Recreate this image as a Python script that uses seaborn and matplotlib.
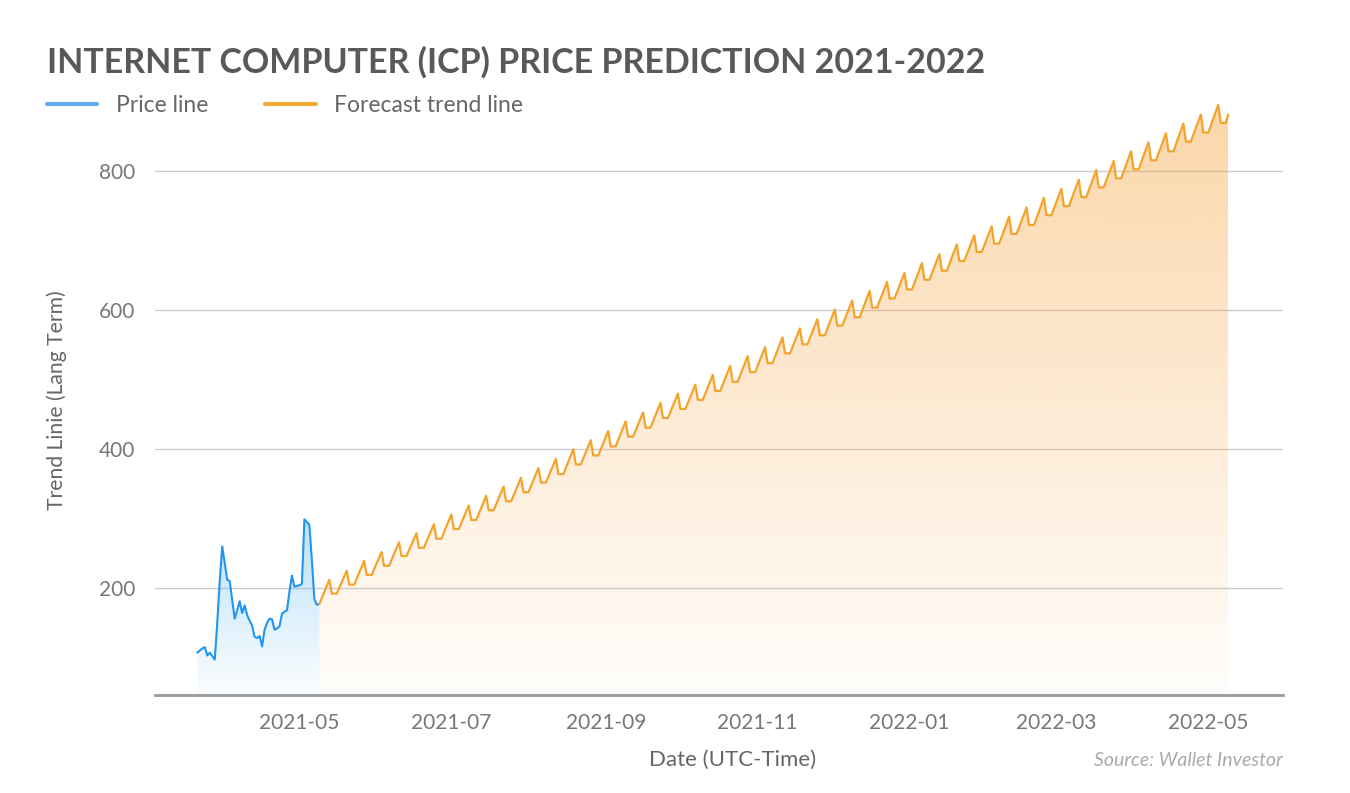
import numpy as np
import pandas as pd
import matplotlib
matplotlib.use("Agg")
import matplotlib.pyplot as plt
import matplotlib.dates as mdates
from matplotlib.colors import to_rgb
from matplotlib.lines import Line2D
import seaborn as sns

# Price line (daily)
price_start = "2021-03-21"
price_values = [107, 110, 113, 115, 103, 107, 102, 97, 150, 210,
                260, 236, 212, 210, 183, 156, 168, 181, 164, 175,
                161, 153, 146, 130, 128, 131, 116, 140, 150, 156,
                155, 140, 142, 145, 163, 166, 168, 195, 218, 202,
                203, 204, 206, 299, 295, 291, 240, 184, 176, 177]

# Forecast trend line: weekly peaks and the troughs after each peak
forecast_start = ("2021-05-09", 177)
first_peak = "2021-05-13"
forecast_peaks = [212, 225, 239, 252, 266, 279, 292, 306, 319, 333,
                  346, 359, 373, 386, 400, 413, 426, 440, 453, 467,
                  480, 493, 507, 520, 534, 547, 561, 574, 587, 601,
                  614, 628, 641, 654, 668, 681, 695, 708, 721, 735,
                  748, 762, 775, 788, 802, 815, 829, 842, 855, 869,
                  882, 896]
forecast_troughs = [192, 205, 219, 232, 246, 258, 271, 285, 298, 312,
                    325, 338, 352, 364, 378, 391, 404, 418, 431, 445,
                    458, 471, 484, 497, 511, 524, 538, 551, 564, 578,
                    590, 604, 617, 630, 644, 657, 671, 684, 696, 710,
                    723, 737, 750, 763, 777, 790, 803, 816, 829, 843,
                    856, 870]
forecast_end = ("2022-05-09", 882)

x_ticks = ["2021-05", "2021-07", "2021-09", "2021-11", "2022-01", "2022-03", "2022-05"]
y_ticks = [200, 400, 600, 800]

BLUE = "#2196f0"
ORANGE = "#f4a42c"

price = pd.DataFrame({
    "date": pd.date_range(price_start, periods=len(price_values), freq="D"),
    "value": price_values,
})

rows = [(pd.Timestamp(forecast_start[0]), forecast_start[1])]
peak_dates = pd.date_range(first_peak, periods=len(forecast_peaks), freq="7D")
for d, p, t in zip(peak_dates, forecast_peaks, forecast_troughs):
    rows.append((d, p))
    rows.append((d + pd.Timedelta(days=1), t))
    rows.append((d + pd.Timedelta(days=3), t))
rows.append((pd.Timestamp(forecast_end[0]), forecast_end[1]))
forecast = pd.DataFrame(rows, columns=["date", "value"])

sns.set_style("white")
plt.rcParams["font.family"] = ["Lato", "DejaVu Sans"]

W, H = 1350, 793
fig = plt.figure(figsize=(W / 100, H / 100), dpi=100)
ax = fig.add_axes([155 / W, 1 - 695 / H, (1283 - 155) / W, (695 - 102) / H])

YMIN, YMAX = 46, 900


def gradient_fill(ax, df, color, a_top, a_bottom):
    x = mdates.date2num(df["date"])
    y = df["value"].to_numpy()
    poly = ax.fill_between(x, y, YMIN, facecolor="none", edgecolor="none")
    rgb = to_rgb(color)
    z = np.zeros((256, 1, 4))
    z[:, :, :3] = rgb
    z[:, 0, 3] = np.linspace(a_bottom, a_top, 256)
    im = ax.imshow(z, aspect="auto", origin="lower",
                   extent=[x.min(), x.max(), YMIN, y.max()], zorder=1)
    im.set_clip_path(poly.get_paths()[0], transform=ax.transData)


gradient_fill(ax, price, "#5cb8f2", 0.42, 0.03)
gradient_fill(ax, forecast, "#f7a540", 0.45, 0.02)

sns.lineplot(data=price, x="date", y="value", color=BLUE, lw=1.5, ax=ax, zorder=3)
sns.lineplot(data=forecast, x="date", y="value", color=ORANGE, lw=1.6, ax=ax, zorder=3)

ax.set_xlim(pd.Timestamp("2021-03-04"), pd.Timestamp("2022-05-31"))
ax.set_ylim(YMIN, YMAX)
ax.set_yticks(y_ticks)
ax.set_xticks([pd.Timestamp(t + "-01") for t in x_ticks])
ax.set_xticklabels(x_ticks)
ax.grid(axis="y", color="#cccccc", lw=1)
ax.grid(axis="x", visible=False)
for s in ["top", "right", "left"]:
    ax.spines[s].set_visible(False)
ax.spines["bottom"].set_color("#999999")
ax.spines["bottom"].set_linewidth(2)
ax.tick_params(axis="both", length=0, labelsize=15, labelcolor="#777777")
ax.tick_params(axis="y", pad=14)
ax.tick_params(axis="x", pad=13)
ax.set_xlabel("")
ax.set_ylabel("")

fig.text(47 / W, 1 - 73 / H, "INTERNET COMPUTER (ICP) PRICE PREDICTION 2021-2022",
         fontsize=24.5, fontweight="bold", color="#595959", va="baseline", ha="left")

handles = [Line2D([], [], color="#64aaea", lw=3), Line2D([], [], color="#f2a93b", lw=3)]
fig.legend(handles, ["Price line", "Forecast trend line"], loc="center left",
           bbox_to_anchor=(47 / W, 1 - 106 / H), ncol=2, frameon=False,
           fontsize=16.5, labelcolor="#666666", handlelength=2.2,
           handletextpad=0.8, columnspacing=2.5, borderpad=0, borderaxespad=0)

fig.text(57 / W, 1 - 400 / H, "Trend Linie (Lang Term)", rotation=90,
         fontsize=15.2, color="#666666", ha="center", va="center")
fig.text(733 / W, 1 - 760 / H, "Date (UTC-Time)", fontsize=16,
         color="#666666", ha="center", va="center")
fig.text(1283 / W, 1 - 760 / H, "Source: Wallet Investor", fontsize=14,
         color="#aaaaaa", style="italic", ha="right", va="center")

fig.savefig("out.png", dpi=100)
